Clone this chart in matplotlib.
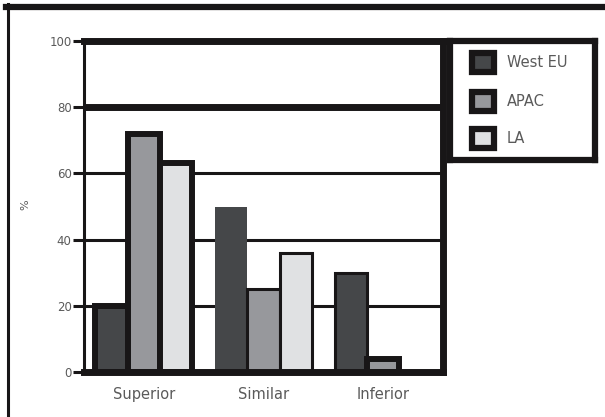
import numpy as np
import matplotlib
matplotlib.use("Agg")
import matplotlib.pyplot as plt
from matplotlib.patches import Rectangle
from matplotlib.lines import Line2D

# Daten
categories = ["Superior", "Similar", "Inferior"]
series = ["West EU", "APAC", "LA"]
west_eu = [20, 50, 30]
apac = [72, 25, 4]
la = [63, 36, 0]
yticks = [0, 20, 40, 60, 80, 100]

values = [west_eu, apac, la]
colors = ["#454749", "#97989c", "#e0e1e3"]
edge = "#181617"
# Randstaerke je Balken (Serie x Kategorie), wie im Original uneinheitlich
edge_lw = [[4.3, 0.0, 2.2],
           [4.3, 2.2, 4.3],
           [4.3, 2.2, 0.0]]

fig = plt.figure(figsize=(6.05, 4.17), dpi=100)
ax = fig.add_axes([84 / 605, 1 - 372 / 417, (443 - 84) / 605, (372 - 41) / 417])

x = np.arange(len(categories))
w = 0.27
for i, (name, vals) in enumerate(zip(series, values)):
    for j, v in enumerate(vals):
        if v <= 0:
            continue
        ax.bar(x[j] + (i - 1) * w, v, w, color=colors[i],
               edgecolor=edge, linewidth=edge_lw[i][j], zorder=3)

ax.set_xlim(-0.5, 2.5)
ax.set_ylim(0, 100)
ax.set_xticks(x)
ax.set_xticklabels(categories, fontsize=10.5, color="#5a5a5a")
ax.set_yticks(yticks)
ax.set_yticklabels([str(t) for t in yticks], fontsize=8.5, color="#5a5a5a")
ax.tick_params(axis="x", length=0, pad=11)
ax.tick_params(axis="y", length=8, width=2.2, color=edge, pad=1)

# Gitterlinien
for t in yticks[1:-1]:
    ax.axhline(t, color=edge, lw=5 if t == 80 else 2.2, zorder=1)

ax.spines["left"].set_linewidth(2.2)
for s in ["top", "right", "bottom"]:
    ax.spines[s].set_linewidth(5)
for s in ax.spines.values():
    s.set_color(edge)
    s.set_zorder(4)

fig.text(25 / 605, 1 - 205 / 417, "%", fontsize=8, color="#5a5a5a",
         ha="center", va="center", rotation=90)

# Legende
lg = fig.add_axes([450 / 605, 1 - 160 / 417, 145 / 605, 119 / 417])
lg.set_xlim(0, 1)
lg.set_ylim(0, 1)
lg.set_xticks([])
lg.set_yticks([])
for s in lg.spines.values():
    s.set_linewidth(4.5)
    s.set_color(edge)
for i, name in enumerate(series):
    yc = [0.82, 0.49, 0.18][i]
    lg.add_patch(Rectangle((0.15, yc - 0.08), 0.15, 0.16, facecolor=colors[i],
                           edgecolor=edge, linewidth=4.5))
    lg.text(0.39, yc, name, fontsize=10.5, color="#5a5a5a", va="center")

# Rahmen oben und links
fig.add_artist(Line2D([6 / 605, 1], [1 - 7 / 417, 1 - 7 / 417],
                      transform=fig.transFigure, color=edge, lw=4.5))
fig.add_artist(Line2D([7.5 / 605, 7.5 / 605], [0, 1 - 4 / 417],
                      transform=fig.transFigure, color=edge, lw=2.2))

fig.savefig("out.png", dpi=100)
